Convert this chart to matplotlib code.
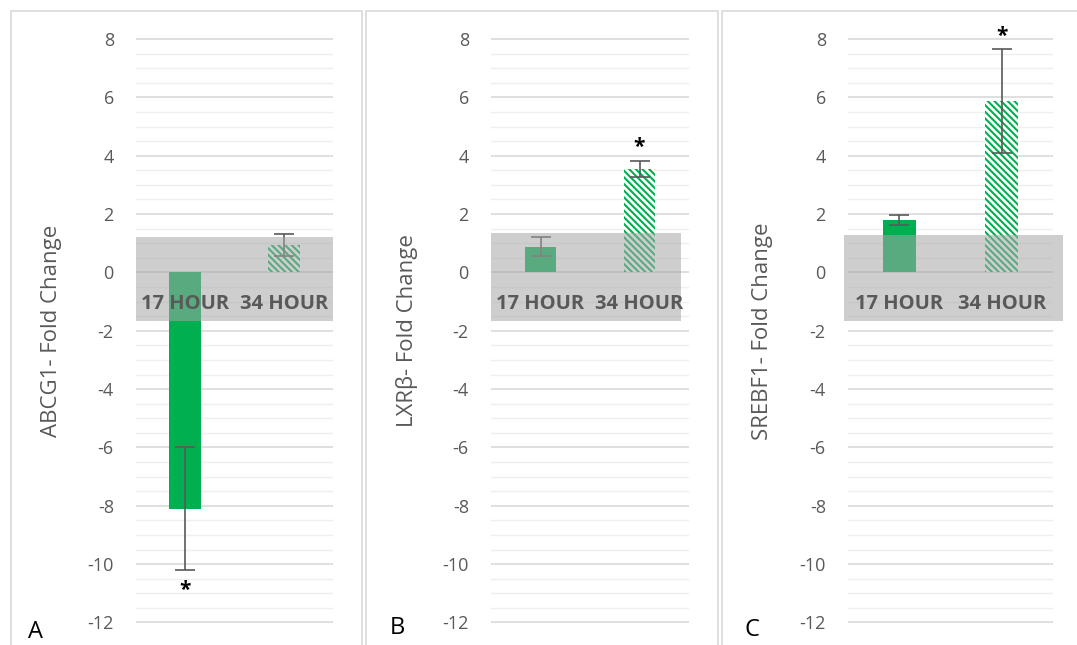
import matplotlib.pyplot as plt
from matplotlib.patches import Rectangle
import numpy as np

# 数据：两个时间点的倍数变化及误差
hours = ["17 HOUR", "34 HOUR"]
abcg1 = [-8.1, 0.93]
abcg1_err = [2.1, 0.37]
lxrb = [0.88, 3.55]
lxrb_err = [0.33, 0.27]
srebf1 = [1.8, 5.88]
srebf1_err = [0.18, 1.77]
abcg1_sig = [True, False]
lxrb_sig = [False, True]
srebf1_sig = [False, True]

panels = [
    ("A", "ABCG1- Fold Change", abcg1, abcg1_err, abcg1_sig),
    ("B", "LXRβ- Fold Change", lxrb, lxrb_err, lxrb_sig),
    ("C", "SREBF1- Fold Change", srebf1, srebf1_err, srebf1_sig),
]

W, H = 1077, 645
green = "#00b050"
text_gray = "#595959"
plt.rcParams["font.family"] = ["Open Sans", "DejaVu Sans"]
plt.rcParams["hatch.linewidth"] = 1.5
plt.rcParams["axes.unicode_minus"] = False

fig = plt.figure(figsize=(W / 100, H / 100), dpi=100)

# 每个面板的像素布局：坐标轴左右边界、灰色框范围、外框、字母位置
layout = [
    dict(ax=(136, 333), box=(-0.5, 1.5, 1.2), frame=(11, 362), letter=(35, 638), ylab=62),
    dict(ax=(491, 689), box=(-0.5, 1.42, 1.34), frame=(366, 718), letter=(397, 634), ylab=418),
    dict(ax=(848, 1053), box=(-0.54, 1.6, 1.27), frame=(722, 1085), letter=(752, 636), ylab=773),
]

ylo, yhi = -12.1, 8.1
top_px, bot_px = 36.1, 625.4

for (letter, ylabel, vals, errs, sig), lay in zip(panels, layout):
    # 外框
    fx0, fx1 = lay["frame"]
    fig.patches.append(Rectangle((fx0 / W, -0.1), (fx1 - fx0) / W, 1.1 - 11 / H,
                                 transform=fig.transFigure, fill=False,
                                 edgecolor="#d9d9d9", linewidth=1.2, zorder=0))

    x0, x1 = lay["ax"]
    ax = fig.add_axes([x0 / W, (H - bot_px) / H, (x1 - x0) / W, (bot_px - top_px) / H])
    ax.set_facecolor("none")
    x = np.arange(len(hours))

    # 17 小时实心柱，34 小时斜线柱
    ax.bar(x[0], vals[0], 0.32, color=green, zorder=2)
    ax.bar(x[1], vals[1], 0.32, facecolor="white", edgecolor=green,
           hatch="\\\\\\\\\\", linewidth=0, zorder=2)
    ax.errorbar(x, vals, yerr=errs, fmt="none", ecolor=text_gray,
                elinewidth=1.2, capsize=7, capthick=1.2, zorder=3)

    # 显著性星号
    for i in range(len(hours)):
        if sig[i]:
            if vals[i] < 0:
                ys = vals[i] - errs[i] - 0.7
            else:
                ys = vals[i] + errs[i] + 0.45
            ax.text(x[i], ys, "*", ha="center", va="center", fontsize=15,
                    fontweight="bold", color="black", zorder=5)

    # 分类标签背后的灰色半透明框
    bx0, bx1, btop = lay["box"]
    ax.add_patch(Rectangle((bx0, -1.68), bx1 - bx0, btop + 1.68, facecolor="#a6a6a6",
                           alpha=0.55, edgecolor="none", zorder=4, clip_on=False))
    for i, h in enumerate(hours):
        ax.text(x[i], -1.09, h, ha="center", va="center", fontsize=14.5,
                fontweight="bold", color=text_gray, zorder=5)

    ax.set_xlim(-0.5, 1.5)
    ax.set_ylim(ylo, yhi)
    ax.set_yticks(np.arange(-12, 9, 2))
    ax.set_yticks(np.arange(-12, 8.01, 0.5), minor=True)
    ax.grid(axis="y", which="major", color="#d9d9d9", linewidth=1.2, zorder=0)
    ax.grid(axis="y", which="minor", color="#efefef", linewidth=1.0, zorder=0)
    ax.set_axisbelow(True)
    ax.set_xticks([])
    ax.tick_params(axis="y", which="both", length=0, pad=16, labelsize=13, labelcolor=text_gray)
    for s in ax.spines.values():
        s.set_visible(False)

    ax.set_ylabel(ylabel, fontsize=16, color=text_gray)
    ax.yaxis.set_label_coords((lay["ylab"] - x0) / (x1 - x0), 0.5)

    lx, ly = lay["letter"]
    fig.text(lx / W, 1 - ly / H, letter, ha="center", va="baseline", fontsize=17, color="black")

fig.savefig("out.png", dpi=100, facecolor="white")
